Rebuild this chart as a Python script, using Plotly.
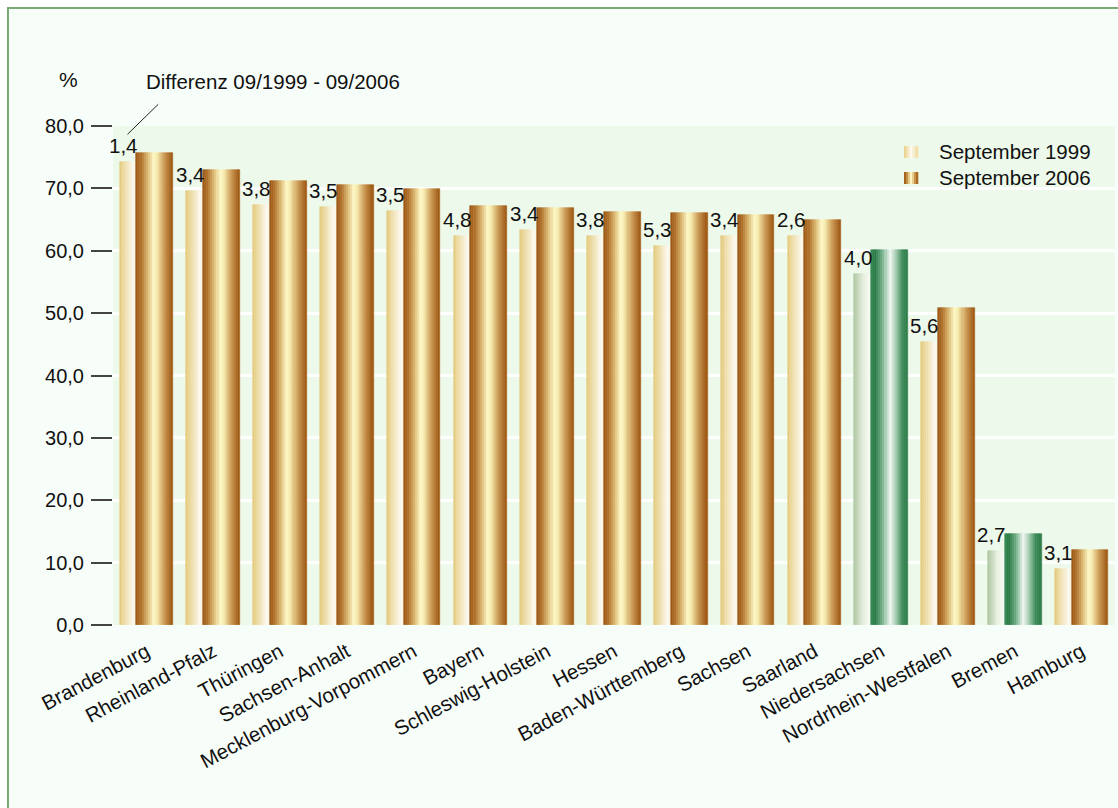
import plotly.graph_objects as go

# ---------------- data ----------------
laender = ["Brandenburg", "Rheinland-Pfalz", "Thüringen", "Sachsen-Anhalt",
           "Mecklenburg-Vorpommern", "Bayern", "Schleswig-Holstein", "Hessen",
           "Baden-Württemberg", "Sachsen", "Saarland", "Niedersachsen",
           "Nordrhein-Westfalen", "Bremen", "Hamburg"]
sep_1999 = [74.2, 69.5, 67.4, 67.0, 66.4, 62.3, 63.4, 62.4, 60.7, 62.3, 62.3, 56.2, 45.3, 11.9, 8.9]
sep_2006 = [75.6, 72.9, 71.2, 70.5, 69.9, 67.1, 66.8, 66.2, 66.0, 65.7, 64.9, 60.2, 50.9, 14.6, 12.0]
differenz = ["1,4", "3,4", "3,8", "3,5", "3,5", "4,8", "3,4", "3,8", "5,3", "3,4", "2,6", "4,0", "5,6", "2,7", "3,1"]
y_ticks = [0, 10, 20, 30, 40, 50, 60, 70, 80]
y_ticktext = ["0,0", "10,0", "20,0", "30,0", "40,0", "50,0", "60,0", "70,0", "80,0"]
series_names = ["September 1999", "September 2006"]

# ---------------- style ----------------
highlight = {"Niedersachsen", "Bremen"}
FONT = "Liberation Sans, Arial, sans-serif"
W, H = 1118, 808
PL, PR, PT, PB = 113, 1115, 126, 625

gold_2006 = [(0.0, "#9a5410"), (0.14, "#b0722c"), (0.32, "#ddbb74"), (0.48, "#fff9c8"),
             (0.58, "#f6e8ac"), (0.78, "#c99650"), (1.0, "#9c5610")]
gold_1999 = [(0.0, "#e4c97c"), (0.45, "#f2e4b8"), (0.85, "#fdf9f0"), (1.0, "#faf4e4")]
green_2006 = [(0.0, "#3f8e5a"), (0.12, "#257843"), (0.33, "#74b08a"), (0.52, "#f2f8f3"),
              (0.68, "#a6cdb2"), (0.86, "#3f8c5a"), (1.0, "#2c7c48")]
green_1999 = [(0.0, "#adc59f"), (0.55, "#e6efe0"), (1.0, "#fafcf8")]


def hex2rgb(h):
    h = h.lstrip("#")
    return tuple(int(h[i:i + 2], 16) for i in (0, 2, 4))


def interp(stops, t):
    for (p0, c0), (p1, c1) in zip(stops[:-1], stops[1:]):
        if p0 <= t <= p1:
            f = (t - p0) / (p1 - p0) if p1 > p0 else 0
            a, b = hex2rgb(c0), hex2rgb(c1)
            r = [round(a[i] + (b[i] - a[i]) * f) for i in range(3)]
            return "rgb(%d,%d,%d)" % tuple(r)
    return stops[-1][1]


def px(xp):
    return (xp - PL) / (PR - PL)


def py(yp):
    return (PB - yp) / (PB - PT)


xs = list(range(len(laender)))
fig = go.Figure()


def add_gradient_bars(values, offset, width, n, stops_norm, stops_hl):
    step = width / n
    for k in range(n):
        t = (k + 0.5) / n
        cols = [interp(stops_hl if name in highlight else stops_norm, t) for name in laender]
        fig.add_trace(go.Bar(
            x=xs, y=values, offset=offset + k * step, width=step,
            marker=dict(color=cols, line=dict(color=cols, width=0.6)),
            showlegend=False, hoverinfo="skip"))


add_gradient_bars(sep_1999, -0.40, 0.25, 9, gold_1999, green_1999)
add_gradient_bars(sep_2006, -0.15, 0.55, 18, gold_2006, green_2006)

# difference labels above 1999 bars
for i, (v, d) in enumerate(zip(sep_1999, differenz)):
    fig.add_annotation(x=i - 0.345, y=v, text=d, showarrow=False, xref="x", yref="y",
                       yanchor="bottom", xanchor="center", yshift=3,
                       font=dict(family=FONT, size=20.5, color="#111"))

shapes = []
# outer frame
shapes.append(dict(type="rect", xref="paper", yref="paper", x0=px(8), x1=px(1130), y0=py(8), y1=py(830),
                   fillcolor="#f7fdf8", line=dict(color="#7aaa76", width=2), layer="below"))
# plot background
shapes.append(dict(type="rect", xref="paper", yref="paper", x0=0, x1=1, y0=0, y1=1,
                   fillcolor="#edf9ea", line=dict(width=0), layer="below"))
# leader line
shapes.append(dict(type="line", xref="paper", yref="paper", x0=px(127.5), y0=py(134.3),
                   x1=px(158.2), y1=py(104.3), line=dict(color="#222", width=1)))

# legend swatches
def swatch(x0, y0, x1, y1, stops, n=7):
    step = (x1 - x0) / n
    for k in range(n):
        shapes.append(dict(type="rect", xref="paper", yref="paper",
                           x0=px(x0 + k * step), x1=px(x0 + (k + 1) * step + 0.3),
                           y0=py(y1), y1=py(y0), fillcolor=interp(stops, (k + 0.5) / n),
                           line=dict(width=0)))


swatch(904, 146, 918, 158, [(0, "#e8cf86"), (0.5, "#fdfaf0"), (1, "#eedb9c")])
swatch(904, 172, 918, 184, gold_2006)

fig.add_annotation(xref="paper", yref="paper", x=px(937), y=py(151), text=series_names[0],
                   showarrow=False, xanchor="left", yanchor="middle",
                   font=dict(family=FONT, size=20.5, color="#111"))
fig.add_annotation(xref="paper", yref="paper", x=px(937), y=py(177), text=series_names[1],
                   showarrow=False, xanchor="left", yanchor="middle",
                   font=dict(family=FONT, size=20.5, color="#111"))

fig.add_annotation(xref="paper", yref="paper", x=px(68), y=py(79), text="%",
                   showarrow=False, xanchor="center", yanchor="middle",
                   font=dict(family=FONT, size=21, color="#111"))
fig.add_annotation(xref="paper", yref="paper", x=px(144), y=py(82), text="Differenz 09/1999 - 09/2006",
                   showarrow=False, xanchor="left", yanchor="middle",
                   font=dict(family=FONT, size=20.5, color="#111"))

fig.update_layout(
    width=W, height=H,
    margin=dict(l=PL, r=W - PR, t=PT, b=H - PB, pad=0),
    paper_bgcolor="white", plot_bgcolor="rgba(0,0,0,0)",
    barmode="overlay", bargap=0,
    shapes=shapes, showlegend=False,
    font=dict(family=FONT, size=19, color="#111"),
)
fig.update_xaxes(range=[-0.5, len(laender) - 0.5], tickvals=xs, ticktext=laender,
                 tickangle=-28, showgrid=False, zeroline=False, showline=False,
                 ticks="", ticklabelstandoff=10,
                 tickfont=dict(family=FONT, size=20.5, color="#111"))
fig.update_yaxes(range=[0, 80], tickvals=y_ticks, ticktext=y_ticktext,
                 showgrid=True, gridcolor="white", gridwidth=2.5, zeroline=False,
                 showline=False, ticks="outside", ticklen=21, tickwidth=1.5, tickcolor="#444",
                 ticklabelstandoff=3,
                 tickfont=dict(family=FONT, size=20, color="#111"))

fig.write_html("out.html", config={"displayModeBar": False},
               post_script="document.body.style.margin='0';document.body.style.overflow='hidden';")
